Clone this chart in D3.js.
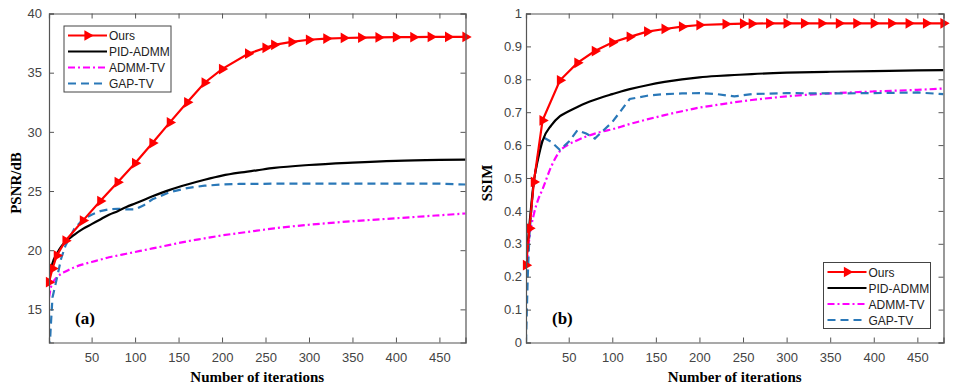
<!DOCTYPE html>
<html>
<head>
<meta charset="utf-8">
<script src="https://cdn.jsdelivr.net/npm/d3@7"></script>
<style>
  body { margin: 0; background: #fff; }
</style>
</head>
<body>
<div id="grafico"></div>
<script>
// Iterations where each series was sampled
const itersOurs = [1, 5, 10, 20, 40, 60, 80, 100, 120, 140, 160, 180, 200, 230, 250, 260, 280, 300, 320, 340, 360, 380, 400, 420, 440, 460, 480];
const itersDense = [1, 3, 5, 10, 15, 20, 30, 40, 50, 60, 70, 80, 90, 100, 110, 120, 140, 160, 180, 200, 220, 240, 260, 300, 350, 400, 450, 480];

const seriesNames = ["Ours", "PID-ADMM", "ADMM-TV", "GAP-TV"];

// (a) PSNR/dB
const psnrOurs = [17.3, 18.45, 19.55, 20.8, 22.5, 24.15, 25.75, 27.35, 29.05, 30.8, 32.5, 34.15, 35.3, 36.6, 37.1, 37.35, 37.6, 37.78, 37.88, 37.93, 37.96, 37.98, 38.0, 38.0, 38.02, 38.02, 38.02];
const psnrPid = [17.3, 18.3, 18.9, 19.7, 20.3, 20.7, 21.3, 21.8, 22.2, 22.6, 23.0, 23.3, 23.65, 23.95, 24.25, 24.55, 25.1, 25.55, 25.95, 26.3, 26.55, 26.75, 26.95, 27.2, 27.4, 27.55, 27.63, 27.66];
const psnrAdmm = [16.0, 16.8, 17.2, 17.7, 18.0, 18.2, 18.55, 18.8, 19.0, 19.2, 19.4, 19.55, 19.7, 19.85, 20.0, 20.15, 20.45, 20.75, 21.0, 21.25, 21.45, 21.65, 21.85, 22.15, 22.45, 22.7, 22.95, 23.1];
const psnrGap = [10.5, 13.5, 16.0, 17.6, 19.3, 20.4, 21.8, 22.6, 23.0, 23.3, 23.45, 23.5, 23.45, 23.45, 23.8, 24.3, 24.9, 25.25, 25.45, 25.55, 25.6, 25.6, 25.62, 25.62, 25.63, 25.63, 25.62, 25.55];

// (b) SSIM
const ssimOurs = [0.235, 0.347, 0.488, 0.675, 0.797, 0.85, 0.886, 0.912, 0.929, 0.945, 0.953, 0.96, 0.965, 0.968, 0.969, 0.969, 0.97, 0.97, 0.97, 0.97, 0.97, 0.97, 0.97, 0.97, 0.97, 0.97, 0.97];
const ssimPid = [0.235, 0.3, 0.36, 0.49, 0.56, 0.613, 0.66, 0.688, 0.703, 0.716, 0.728, 0.738, 0.747, 0.755, 0.763, 0.77, 0.782, 0.792, 0.8, 0.806, 0.81, 0.813, 0.816, 0.82, 0.823, 0.825, 0.827, 0.828];
const ssimAdmm = [0.2, 0.27, 0.32, 0.39, 0.435, 0.466, 0.535, 0.582, 0.602, 0.615, 0.626, 0.635, 0.642, 0.648, 0.656, 0.664, 0.678, 0.691, 0.703, 0.714, 0.722, 0.73, 0.737, 0.748, 0.757, 0.763, 0.768, 0.772];
const ssimGap = [0.0, 0.2, 0.33, 0.49, 0.57, 0.625, 0.61, 0.585, 0.61, 0.645, 0.635, 0.62, 0.645, 0.67, 0.705, 0.74, 0.75, 0.755, 0.757, 0.758, 0.755, 0.748, 0.755, 0.758, 0.757, 0.758, 0.76, 0.755];

// Tick labels
const xTicks = [50, 100, 150, 200, 250, 300, 350, 400, 450];
const psnrTicks = [15, 20, 25, 30, 35, 40];
const ssimTicks = [0, 0.1, 0.2, 0.3, 0.4, 0.5, 0.6, 0.7, 0.8, 0.9, 1];

const width = 958;
const height = 392;

const styles = {
  "Ours": { color: "#ff0000", dash: null, curve: d3.curveLinear },
  "PID-ADMM": { color: "#000000", dash: null, curve: d3.curveMonotoneX },
  "ADMM-TV": { color: "#ff00ff", dash: "7,3,2,3", curve: d3.curveMonotoneX },
  "GAP-TV": { color: "#2a78b8", dash: "8,5", curve: d3.curveLinear },
};

const svg = d3
  .select("#grafico")
  .append("svg")
  .attr("width", width)
  .attr("height", height)
  .style("font-family", "Arial, 'Liberation Sans', sans-serif");

const triangle = d3.symbol().type(d3.symbolTriangle).size(50);

function panel(cfg) {
  const x = d3.scaleLinear().domain([1, 480]).range([cfg.left, cfg.right]);
  const y = d3.scaleLinear().domain(cfg.yDomain).range([342.5, 13.5]);

  const g = svg.append("g");

  const clipId = "clip-" + cfg.id;
  g.append("clipPath")
    .attr("id", clipId)
    .append("rect")
    .attr("x", cfg.left)
    .attr("y", 13.5)
    .attr("width", cfg.right - cfg.left)
    .attr("height", 329);

  // Series lines (drawn back to front)
  const series = [
    { name: "ADMM-TV", it: itersDense, v: cfg.data["ADMM-TV"] },
    { name: "GAP-TV", it: itersDense, v: cfg.data["GAP-TV"] },
    { name: "PID-ADMM", it: itersDense, v: cfg.data["PID-ADMM"] },
    { name: "Ours", it: itersOurs, v: cfg.data["Ours"] },
  ];

  series.forEach((s) => {
    const st = styles[s.name];
    const pts = s.it.map((it, i) => [it, s.v[i]]);
    const line = d3
      .line()
      .x((d) => x(d[0]))
      .y((d) => y(d[1]))
      .curve(st.curve);
    g.append("path")
      .datum(pts)
      .attr("clip-path", `url(#${clipId})`)
      .attr("fill", "none")
      .attr("stroke", st.color)
      .attr("stroke-width", 2.2)
      .attr("stroke-dasharray", st.dash)
      .attr("d", line);

    if (s.name === "Ours") {
      g.selectAll(null)
        .data(pts)
        .join("path")
        .attr("d", triangle)
        .attr("transform", (d) => `translate(${x(d[0])},${y(d[1])}) rotate(90)`)
        .attr("fill", st.color);
    }
  });

  // Axes with inward ticks on all four sides (box on)
  const axisColor = "#555";
  const bottom = g.append("g")
    .attr("transform", "translate(0,342.5)")
    .call(d3.axisBottom(x).tickValues(xTicks).tickSize(-5).tickPadding(10));
  const top = g.append("g")
    .attr("transform", "translate(0,13.5)")
    .call(d3.axisTop(x).tickValues(xTicks).tickSize(-5).tickFormat(""));
  const left = g.append("g")
    .attr("transform", `translate(${cfg.left},0)`)
    .call(d3.axisLeft(y).tickValues(cfg.yTicks).tickSize(-5).tickPadding(cfg.pad).tickFormat((d) => String(d)));
  const right = g.append("g")
    .attr("transform", `translate(${cfg.right},0)`)
    .call(d3.axisRight(y).tickValues(cfg.yTicks).tickSize(-5).tickFormat(""));

  [bottom, top, left, right].forEach((a) => {
    a.select(".domain").attr("stroke", axisColor).attr("stroke-width", 1.2);
    a.selectAll(".tick line").attr("stroke", axisColor);
    a.selectAll("text")
      .attr("fill", "#444")
      .style("font-size", "13px")
      .style("font-family", "Arial, 'Liberation Sans', sans-serif");
  });

  // Axis titles
  g.append("text")
    .attr("x", (cfg.left + cfg.right) / 2)
    .attr("y", 382)
    .attr("text-anchor", "middle")
    .style("font-family", "'Liberation Serif', 'Times New Roman', serif")
    .style("font-weight", "bold")
    .style("font-size", "15px")
    .text("Number of iterations");

  g.append("text")
    .attr("transform", `translate(${cfg.yLabelX},183) rotate(-90)`)
    .attr("text-anchor", "middle")
    .style("font-family", "'Liberation Serif', 'Times New Roman', serif")
    .style("font-weight", "bold")
    .style("font-size", "15px")
    .text(cfg.yLabel);

  // Panel tag
  g.append("text")
    .attr("x", cfg.left + 26)
    .attr("y", 324)
    .style("font-family", "'Liberation Serif', 'Times New Roman', serif")
    .style("font-weight", "bold")
    .style("font-size", "17px")
    .text(cfg.tag);

  // Legend
  const lg = g.append("g").attr("transform", `translate(${cfg.legend[0]},${cfg.legend[1]})`);
  lg.append("rect")
    .attr("width", 107)
    .attr("height", 66)
    .attr("fill", "#fff")
    .attr("stroke", "#444")
    .attr("stroke-width", 1);

  seriesNames.forEach((name, i) => {
    const st = styles[name];
    const row = lg.append("g").attr("transform", `translate(0, ${9.5 + i * 16})`);
    row.append("line")
      .attr("x1", 4)
      .attr("x2", 43)
      .attr("stroke", st.color)
      .attr("stroke-width", 2.2)
      .attr("stroke-dasharray", st.dash);
    if (name === "Ours") {
      row.append("path")
        .attr("d", triangle)
        .attr("transform", "translate(23.5,0) rotate(90)")
        .attr("fill", st.color);
    }
    row.append("text")
      .attr("x", 45)
      .attr("y", 4.5)
      .style("font-size", "12px")
      .attr("fill", "#222")
      .text(name);
  });
}

panel({
  id: "a",
  left: 49,
  right: 465.5,
  yDomain: [12.2, 40],
  yTicks: psnrTicks,
  pad: 7,
  yLabel: "PSNR/dB",
  yLabelX: 21,
  tag: "(a)",
  legend: [64, 26],
  data: { "Ours": psnrOurs, "PID-ADMM": psnrPid, "ADMM-TV": psnrAdmm, "GAP-TV": psnrGap },
});

panel({
  id: "b",
  left: 526,
  right: 943.5,
  yDomain: [0, 1],
  yTicks: ssimTicks,
  pad: 4,
  yLabel: "SSIM",
  yLabelX: 492,
  tag: "(b)",
  legend: [823.5, 262.5],
  data: { "Ours": ssimOurs, "PID-ADMM": ssimPid, "ADMM-TV": ssimAdmm, "GAP-TV": ssimGap },
});
</script>
</body>
</html>
